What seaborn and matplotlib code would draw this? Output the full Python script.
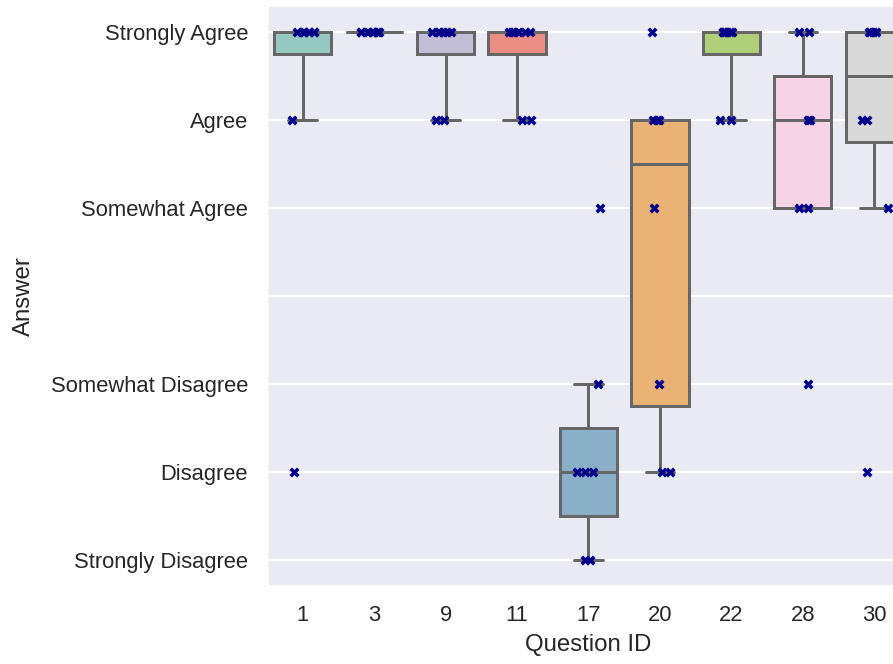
import numpy as np
import pandas as pd
import matplotlib
matplotlib.use("Agg")
import matplotlib.pyplot as plt
import seaborn as sns

# answers per question (7 = Strongly Agree ... 1 = Strongly Disagree)
q_ids = [1, 3, 9, 11, 17, 20, 22, 28, 30]
answers = {
    1: [7, 7, 7, 7, 7, 7, 6, 2],
    3: [7, 7, 7, 7, 7, 7, 7, 7],
    9: [7, 7, 7, 7, 7, 7, 6, 6],
    11: [7, 7, 7, 7, 7, 7, 6, 6],
    17: [5, 3, 2, 2, 2, 1, 1],
    20: [7, 6, 6, 6, 5, 3, 2, 2],
    22: [7, 7, 7, 7, 7, 7, 6, 6],
    28: [7, 7, 6, 6, 5, 5, 3],
    30: [7, 7, 7, 7, 6, 6, 5, 2],
}
levels = [1, 2, 3, 4, 5, 6, 7]
level_labels = ["Strongly Disagree", "Disagree", "Somewhat Disagree", "",
                "Somewhat Agree", "Agree", "Strongly Agree"]

rows = []
for q in q_ids:
    for a in answers[q]:
        rows.append({"Question ID": q, "Answer": a})
df = pd.DataFrame(rows)

sns.set_theme(style="darkgrid")
plt.rcParams["font.family"] = ["Arial", "Liberation Sans", "DejaVu Sans"]

fig, ax = plt.subplots(figsize=(893 / 144, 664 / 144), dpi=144)
fig.subplots_adjust(left=0.299, right=1.019, bottom=0.1175, top=0.992)

sns.boxplot(data=df, x="Question ID", y="Answer", hue="Question ID",
            palette="Set3", legend=False, whis=(5, 95), showfliers=False,
            linewidth=1.5, linecolor=".4", ax=ax)
np.random.seed(3)
sns.stripplot(data=df, x="Question ID", y="Answer", color="darkblue",
              marker="X", size=5, jitter=0.2, ax=ax)

ax.set_yticks(levels)
ax.set_yticklabels(level_labels)
ax.set_xlabel("Question ID")
ax.set_ylabel("Answer", labelpad=8)

fig.savefig("out.png", dpi=144)
